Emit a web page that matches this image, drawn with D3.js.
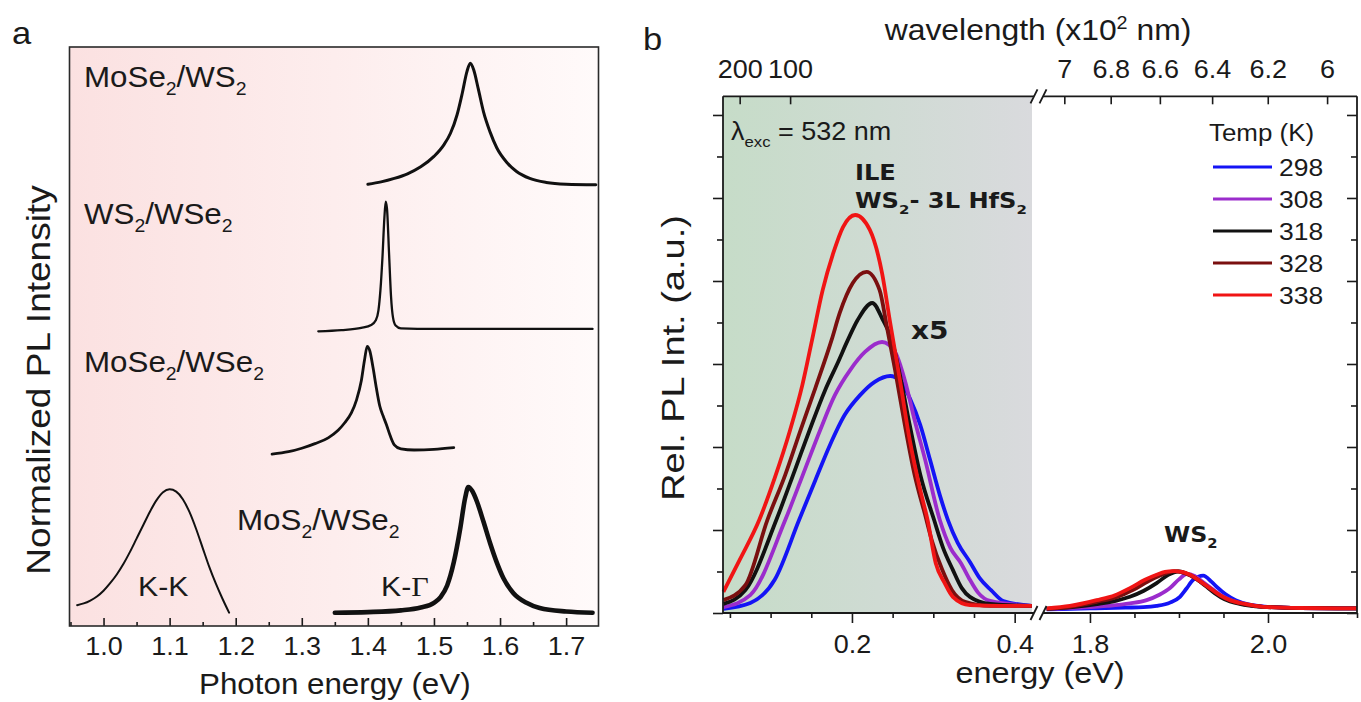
<!DOCTYPE html>
<html>
<head>
<meta charset="utf-8">
<script src="https://cdn.jsdelivr.net/npm/d3@7"></script>
<style>
  body { margin: 0; background: #fff; }
  svg { display: block; }
</style>
</head>
<body>
<svg id="chart" width="1361" height="702"></svg>
<script>
// ---------- Panel a: normalized PL spectra of four heterobilayers ----------
// [photon energy (eV), stacked normalized intensity]
const moSe2WS2 = [[1.400,76.3],[1.420,76.7],[1.440,77.3],[1.460,78.1],[1.480,79.3],[1.500,81.1],[1.515,83.1],[1.525,85.1],[1.535,88.3],[1.543,92.1],[1.550,95.8],[1.555,97.2],[1.560,96.1],[1.567,92.8],[1.575,88.8],[1.585,85.3],[1.595,82.6],[1.610,80.1],[1.625,78.5],[1.645,77.3],[1.670,76.6],[1.700,76.3],[1.745,76.2]];
const ws2WSe2 = [[1.325,50.9],[1.360,51.1],[1.390,51.5],[1.405,52.0],[1.412,52.8],[1.416,54.5],[1.419,58.0],[1.422,63.5],[1.425,70.5],[1.427,73.3],[1.429,72.0],[1.432,64.5],[1.435,57.0],[1.438,53.3],[1.442,51.9],[1.450,51.4],[1.500,51.3],[1.600,51.3],[1.740,51.3]];
const moSe2WSe2 = [[1.255,29.7],[1.280,30.1],[1.300,30.7],[1.320,31.5],[1.340,32.5],[1.355,33.8],[1.365,35.1],[1.375,36.8],[1.383,39.1],[1.390,42.3],[1.395,46.0],[1.399,48.3],[1.403,47.5],[1.408,44.5],[1.413,41.0],[1.418,38.0],[1.423,36.3],[1.428,34.8],[1.434,32.8],[1.440,31.3],[1.450,30.6],[1.470,30.4],[1.500,30.5],[1.530,30.8]];
const moS2WSe2KK = [[0.960,3.6],[0.970,3.9],[0.980,4.4],[0.990,5.1],[1.000,6.1],[1.010,7.4],[1.020,8.9],[1.030,10.7],[1.040,12.8],[1.050,15.1],[1.060,17.4],[1.070,19.7],[1.080,21.7],[1.090,23.1],[1.100,23.6],[1.110,23.2],[1.120,21.9],[1.130,19.7],[1.140,16.8],[1.150,13.5],[1.160,10.2],[1.170,7.3],[1.180,4.7],[1.190,2.3]];
const moS2WSe2KG = [[1.350,2.3],[1.400,2.4],[1.450,2.7],[1.480,3.2],[1.500,4.0],[1.510,5.0],[1.520,7.0],[1.530,11.0],[1.540,17.0],[1.547,22.0],[1.552,24.0],[1.558,23.3],[1.565,21.5],[1.575,18.0],[1.585,14.3],[1.595,11.0],[1.605,8.3],[1.620,5.7],[1.640,4.0],[1.660,3.1],[1.700,2.5],[1.740,2.3]];
const energyTicksA = [1.0, 1.1, 1.2, 1.3, 1.4, 1.5, 1.6, 1.7];
const energyMinorA = [0.95, 1.05, 1.15, 1.25, 1.35, 1.45, 1.55, 1.65];

// ---------- Panel b: temperature-dependent PL of WS2 / 3L HfS2 ----------
const temps = ["298", "308", "318", "328", "338"];
// interlayer exciton band, [energy (eV), rel. intensity x5]
const ile298 = [[0.042,0.10],[0.075,0.24],[0.105,0.80],[0.135,2.24],[0.155,3.20],[0.173,4.05],[0.191,4.77],[0.210,5.25],[0.228,5.57],[0.247,5.71],[0.259,5.61],[0.271,5.18],[0.284,4.53],[0.296,3.69],[0.308,2.84],[0.318,2.24],[0.330,1.69],[0.345,1.23],[0.357,0.84],[0.371,0.55],[0.386,0.29],[0.421,0.17]];
const ile308 = [[0.042,0.14],[0.075,0.43],[0.118,2.24],[0.142,3.45],[0.161,4.41],[0.179,5.25],[0.198,5.86],[0.216,6.29],[0.237,6.53],[0.253,6.29],[0.265,5.61],[0.277,4.65],[0.290,3.69],[0.308,2.24],[0.321,1.57],[0.334,1.20],[0.345,0.80],[0.355,0.49],[0.370,0.29],[0.421,0.17]];
const ile318 = [[0.042,0.22],[0.069,0.55],[0.107,2.24],[0.130,3.45],[0.148,4.41],[0.167,5.37],[0.183,6.05],[0.195,6.58],[0.207,7.06],[0.225,7.47],[0.238,7.06],[0.249,6.58],[0.259,5.73],[0.271,4.53],[0.284,3.33],[0.301,2.24],[0.312,1.57],[0.324,1.04],[0.335,0.60],[0.345,0.39],[0.370,0.22],[0.421,0.17]];
const ile328 = [[0.042,0.31],[0.069,0.67],[0.096,2.24],[0.118,3.33],[0.136,4.36],[0.155,5.42],[0.175,6.58],[0.185,7.23],[0.201,7.95],[0.218,8.22],[0.234,7.78],[0.243,6.89],[0.253,5.86],[0.265,4.53],[0.277,3.33],[0.290,2.36],[0.298,1.76],[0.311,1.04],[0.323,0.55],[0.339,0.27],[0.370,0.17],[0.421,0.17]];
const ile338 = [[0.042,0.51],[0.062,1.28],[0.086,2.24],[0.105,3.25],[0.124,4.41],[0.139,5.49],[0.151,6.58],[0.164,7.78],[0.177,8.67],[0.189,9.30],[0.204,9.59],[0.222,9.23],[0.237,8.19],[0.247,6.99],[0.259,5.61],[0.271,4.17],[0.284,2.96],[0.293,2.24],[0.303,1.20],[0.314,0.72],[0.324,0.39],[0.345,0.19],[0.382,0.17],[0.421,0.17]];
// WS2 intralayer exciton, [energy (eV), rel. intensity]
const ws2298 = [[1.7514,0.09],[1.80,0.11],[1.84,0.13],[1.86,0.14],[1.8749,0.17],[1.89,0.25],[1.9011,0.39],[1.9085,0.59],[1.9160,0.80],[1.9273,0.90],[1.9367,0.75],[1.9434,0.61],[1.9524,0.45],[1.9636,0.31],[1.9793,0.20],[1.9994,0.15],[2.0359,0.12],[2.10,0.11]];
const ws2308 = [[1.7514,0.10],[1.79,0.13],[1.82,0.17],[1.845,0.23],[1.8637,0.31],[1.878,0.44],[1.8899,0.60],[1.90,0.81],[1.9086,0.94],[1.9176,0.89],[1.9266,0.75],[1.9367,0.59],[1.9479,0.42],[1.9591,0.30],[1.9759,0.20],[1.9961,0.15],[2.0359,0.12],[2.10,0.11]];
const ws2318 = [[1.7514,0.10],[1.78,0.14],[1.81,0.22],[1.83,0.30],[1.8449,0.39],[1.86,0.53],[1.8749,0.72],[1.888,0.92],[1.899,1.00],[1.9064,0.97],[1.9176,0.85],[1.9289,0.67],[1.9401,0.48],[1.9513,0.33],[1.9681,0.22],[1.9938,0.15],[2.0359,0.12],[2.10,0.11]];
const ws2328 = [[1.7514,0.10],[1.7775,0.15],[1.8075,0.27],[1.83,0.38],[1.848,0.55],[1.865,0.76],[1.878,0.90],[1.888,0.98],[1.895,1.01],[1.904,0.98],[1.9123,0.91],[1.9236,0.76],[1.9348,0.59],[1.946,0.42],[1.9573,0.30],[1.9741,0.21],[1.9947,0.15],[2.0359,0.12],[2.10,0.11]];
const ws2338 = [[1.7514,0.11],[1.7775,0.17],[1.8075,0.31],[1.8281,0.43],[1.8449,0.60],[1.8618,0.80],[1.8749,0.92],[1.8843,0.99],[1.8936,1.01],[1.9033,0.99],[1.9123,0.92],[1.9236,0.77],[1.9348,0.60],[1.946,0.43],[1.9573,0.31],[1.9741,0.22],[1.9947,0.15],[2.0359,0.12],[2.10,0.11]];
const energyTicksL = [0.2, 0.4];
const energyMinorL = [0.05, 0.1, 0.15, 0.25, 0.3, 0.35];
const energyTicksR = [1.8, 2.0];
const energyMinorR = [1.85, 1.9, 1.95, 2.05, 2.1];
// wavelength ticks, in units of 10^2 nm
const wavelengthTicksL = [200, 100];
const wavelengthTicksR = [7, 6.8, 6.6, 6.4, 6.2, 6];
const intensityTicks = [0, 2, 4, 6, 8, 10, 12];
const intensityMinor = [1, 3, 5, 7, 9, 11];

const tempColors = ["#1414f5", "#9b2ccc", "#111111", "#7a0f0f", "#f01414"];

// ---------- helpers ----------
const svg = d3.select("#chart");
const SX = 1.08;
const SANS = '"Liberation Sans", Arial, Helvetica, sans-serif';
const BOLD = '"DejaVu Sans", Verdana, sans-serif';
const INK = "#1a1a1a";

// text with optional sub/superscript parts, slightly widened glyphs
function richText(g, x, y, parts, o = {}) {
  const size = o.size || 24;
  const sx = o.sx ?? SX;
  const tf = `translate(${x},${y}) scale(${sx},1)` + (o.rotate ? ` rotate(${o.rotate})` : "");
  const t = g.append("text")
    .attr("transform", tf)
    .attr("text-anchor", o.anchor || "start")
    .attr("fill", o.fill || INK)
    .style("font-family", o.family || SANS)
    .style("font-size", size + "px")
    .style("font-weight", o.weight || "normal");
  let shift = 0;
  parts.forEach(p => {
    const [str, kind] = typeof p === "string" ? [p, null] : p;
    const target = kind === "sub" ? size * 0.28 : kind === "sup" ? -size * 0.38 : 0;
    const ts = t.append("tspan").text(str).attr("dy", target - shift);
    if (kind === "sub" || kind === "sup") ts.style("font-size", (size * 0.62) + "px");
    if (kind === "serif") ts.style("font-family", '"Liberation Serif", "Times New Roman", serif');
    shift = target;
  });
  return t;
}

function styleAxis(sel, size) {
  sel.select(".domain").remove();
  sel.selectAll(".tick line").attr("stroke", INK).attr("stroke-width", 1.6);
  sel.selectAll(".tick text")
    .attr("fill", INK)
    .style("font-family", SANS)
    .style("font-size", size + "px")
    .attr("transform", `scale(${SX},1)`);
}

const defs = svg.append("defs");
const gA = defs.append("linearGradient").attr("id", "bgA").attr("x1", 0).attr("x2", 1).attr("y1", 0).attr("y2", 0);
gA.append("stop").attr("offset", 0).attr("stop-color", "#fbe1e1");
gA.append("stop").attr("offset", 0.5).attr("stop-color", "#fdeded");
gA.append("stop").attr("offset", 1).attr("stop-color", "#fffafa");
const gB = defs.append("linearGradient").attr("id", "bgB").attr("x1", 0).attr("x2", 1).attr("y1", 0).attr("y2", 0);
gB.append("stop").attr("offset", 0).attr("stop-color", "#c6dcc8");
gB.append("stop").attr("offset", 0.5).attr("stop-color", "#cfdbd3");
gB.append("stop").attr("offset", 1).attr("stop-color", "#d9dadd");

// ================= Panel a =================
const pa = svg.append("g");
const xA = d3.scaleLinear().domain([0.9485, 1.749]).range([69.5, 598.5]);
const yA = d3.scaleLinear().domain([0, 100]).range([626, 47]);

pa.append("rect")
  .attr("x", xA.range()[0]).attr("y", yA.range()[1])
  .attr("width", xA.range()[1] - xA.range()[0])
  .attr("height", yA.range()[0] - yA.range()[1])
  .attr("fill", "url(#bgA)");

const lineA = d3.line().x(d => xA(d[0])).y(d => yA(d[1])).curve(d3.curveMonotoneX);
const spectraA = [moSe2WS2, ws2WSe2, moSe2WSe2, moS2WSe2KK, moS2WSe2KG];
const strokeA = [3.0, 2.3, 2.8, 2.0, 4.6];
spectraA.forEach((s, i) => {
  pa.append("path").datum(s).attr("d", lineA)
    .attr("fill", "none").attr("stroke", "#111").attr("stroke-width", strokeA[i])
    .attr("stroke-linejoin", "round").attr("stroke-linecap", "round");
});

pa.append("g").attr("transform", `translate(0,${yA(0)})`)
  .call(d3.axisBottom(xA).tickValues(energyTicksA).tickSize(-8).tickPadding(11).tickFormat(d3.format(".1f")))
  .call(s => styleAxis(s, 25));
pa.append("g").attr("transform", `translate(0,${yA(0)})`)
  .call(d3.axisBottom(xA).tickValues(energyMinorA).tickSize(-4).tickFormat(""))
  .call(s => styleAxis(s, 25));

pa.append("rect")
  .attr("x", xA.range()[0]).attr("y", yA.range()[1])
  .attr("width", xA.range()[1] - xA.range()[0])
  .attr("height", yA.range()[0] - yA.range()[1])
  .attr("fill", "none").attr("stroke", "#2a2a2a").attr("stroke-width", 1.6);

richText(pa, 84, 87, ["MoSe", ["2", "sub"], "/WS", ["2", "sub"]], { size: 29 });
richText(pa, 84, 224, ["WS", ["2", "sub"], "/WSe", ["2", "sub"]], { size: 29 });
richText(pa, 84, 372, ["MoSe", ["2", "sub"], "/WSe", ["2", "sub"]], { size: 29 });
richText(pa, 237, 530, ["MoS", ["2", "sub"], "/WSe", ["2", "sub"]], { size: 29 });
richText(pa, 138, 596, ["K-K"], { size: 28 });
richText(pa, 381, 596, ["K-", ["Γ", "serif"]], { size: 28 });

richText(pa, xA(1.35), 694, ["Photon energy (eV)"], { size: 29, anchor: "middle" });
richText(pa, 50, 380, ["Normalized PL Intensity"], { size: 37, anchor: "middle", rotate: -90, sx: 0.88 });
richText(pa, 12, 44, ["a"], { size: 32 });

// ================= Panel b =================
const pb = svg.append("g");
const xL = d3.scaleLinear().domain([0.0415, 0.4213]).range([723, 1032]);
const xR = d3.scaleLinear().domain([1.7495, 2.1]).range([1045, 1357]);
const yB = d3.scaleLinear().domain([0, 12.45]).range([613, 96.3]);
const yTop = yB.range()[1], yBot = yB.range()[0];

pb.append("rect")
  .attr("x", xL.range()[0]).attr("y", yTop)
  .attr("width", xL.range()[1] - xL.range()[0]).attr("height", yBot - yTop)
  .attr("fill", "url(#bgB)");

const ileSeries = [ile298, ile308, ile318, ile328, ile338];
const ws2Series = [ws2298, ws2308, ws2318, ws2328, ws2338];
const lineL = d3.line().x(d => xL(d[0])).y(d => yB(d[1])).curve(d3.curveMonotoneX);
const lineR = d3.line().x(d => xR(d[0])).y(d => yB(d[1])).curve(d3.curveMonotoneX);
temps.forEach((t, i) => {
  pb.append("path").datum(ileSeries[i]).attr("d", lineL)
    .attr("fill", "none").attr("stroke", tempColors[i]).attr("stroke-width", 3.8)
    .attr("stroke-linejoin", "round");
  pb.append("path").datum(ws2Series[i]).attr("d", lineR)
    .attr("fill", "none").attr("stroke", tempColors[i]).attr("stroke-width", 3.8)
    .attr("stroke-linejoin", "round");
});

// frame with axis break
const frame = pb.append("g").attr("stroke", INK).attr("stroke-width", 1.8).attr("fill", "none");
const xBreakL = xL.range()[1] + 2, xBreakR = xR.range()[0] - 2;
[yTop, yBot].forEach(yv => {
  frame.append("line").attr("x1", xL.range()[0]).attr("x2", xBreakL).attr("y1", yv).attr("y2", yv);
  frame.append("line").attr("x1", xBreakR).attr("x2", xR.range()[1]).attr("y1", yv).attr("y2", yv);
  [xBreakL, xBreakR].forEach(xv => {
    frame.append("line").attr("x1", xv - 3.5).attr("y1", yv + 7).attr("x2", xv + 3.5).attr("y2", yv - 7);
  });
});
frame.append("line").attr("x1", xL.range()[0]).attr("x2", xL.range()[0]).attr("y1", yTop).attr("y2", yBot);
frame.append("line").attr("x1", xR.range()[1]).attr("x2", xR.range()[1]).attr("y1", yTop).attr("y2", yBot);

// bottom energy axes (ticks outward)
[[xL, energyTicksL, energyMinorL], [xR, energyTicksR, energyMinorR]].forEach(([sc, maj, mnr]) => {
  pb.append("g").attr("transform", `translate(0,${yBot})`)
    .call(d3.axisBottom(sc).tickValues(maj).tickSize(10).tickPadding(12).tickFormat(d3.format(".1f")))
    .call(s => styleAxis(s, 25));
  pb.append("g").attr("transform", `translate(0,${yBot})`)
    .call(d3.axisBottom(sc).tickValues(mnr).tickSize(5).tickFormat(""))
    .call(s => styleAxis(s, 25));
});

// top wavelength axes (ticks inward), E = hc / lambda
const hc = 1239.84; // eV nm
[[xL, wavelengthTicksL], [xR, wavelengthTicksR]].forEach(([sc, wl]) => {
  const energies = wl.map(w => hc / (w * 100));
  pb.append("g").attr("transform", `translate(0,${yTop})`)
    .call(d3.axisTop(sc).tickValues(energies).tickSize(-8).tickPadding(18).tickFormat((d, i) => String(wl[i])))
    .call(s => styleAxis(s, 25));
});

// intensity axes: left ticks outward, right ticks inward, no labels
pb.append("g").attr("transform", `translate(${xL.range()[0]},0)`)
  .call(d3.axisLeft(yB).tickValues(intensityTicks).tickSize(10).tickFormat(""))
  .call(s => styleAxis(s, 25));
pb.append("g").attr("transform", `translate(${xL.range()[0]},0)`)
  .call(d3.axisLeft(yB).tickValues(intensityMinor).tickSize(6).tickFormat(""))
  .call(s => styleAxis(s, 25));
pb.append("g").attr("transform", `translate(${xR.range()[1]},0)`)
  .call(d3.axisRight(yB).tickValues(intensityTicks).tickSize(-10).tickFormat(""))
  .call(s => styleAxis(s, 25));
pb.append("g").attr("transform", `translate(${xR.range()[1]},0)`)
  .call(d3.axisRight(yB).tickValues(intensityMinor).tickSize(-6).tickFormat(""))
  .call(s => styleAxis(s, 25));

// legend
richText(pb, 1209, 141, ["Temp (K)"], { size: 24 });
temps.forEach((t, i) => {
  const ly = 167 + i * 32;
  pb.append("line").attr("x1", 1213).attr("x2", 1272).attr("y1", ly).attr("y2", ly)
    .attr("stroke", tempColors[i]).attr("stroke-width", 3);
  richText(pb, 1279, ly + 9, [t], { size: 24.5 });
});

// annotations
richText(pb, 731, 140, ["λ", ["exc", "sub"], " = 532 nm"], { size: 25 });
richText(pb, 855, 180, ["ILE"], { size: 21, family: BOLD, weight: "bold", sx: 1.15 });
richText(pb, 855, 208, ["WS", ["2", "sub"], "- 3L HfS", ["2", "sub"]], { size: 21, family: BOLD, weight: "bold", sx: 1.15 });
richText(pb, 911, 339, ["x5"], { size: 25, family: BOLD, weight: "bold", sx: 1.12 });
richText(pb, 1164, 542, ["WS", ["2", "sub"]], { size: 22, family: BOLD, weight: "bold" });

// titles
richText(pb, 1040, 683, ["energy (eV)"], { size: 30, anchor: "middle" });
richText(pb, 1038, 40, ["wavelength (x10", ["2", "sup"], " nm)"], { size: 29.5, anchor: "middle" });
richText(pb, 684, 358, ["Rel. PL  Int. (a.u.)"], { size: 38, anchor: "middle", rotate: -90, sx: 0.84 });
richText(pb, 643, 50, ["b"], { size: 32 });
</script>
</body>
</html>
